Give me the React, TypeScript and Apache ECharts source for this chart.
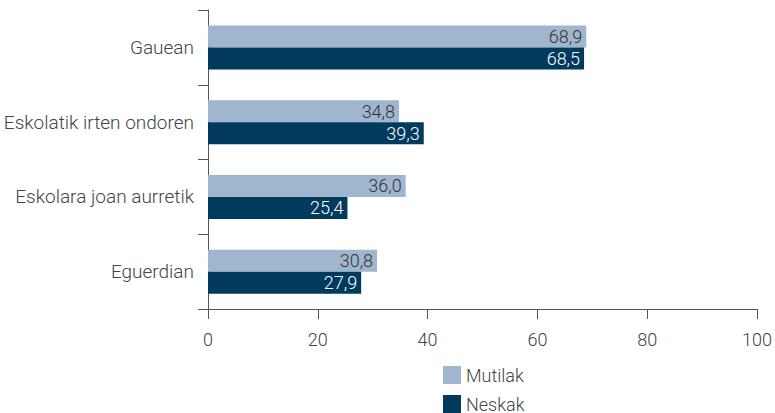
import React, { useEffect, useRef } from "react";
import * as echarts from "echarts";

const categories = ["Gauean", "Eskolatik irten ondoren", "Eskolara joan aurretik", "Eguerdian"];
const mutilak = [68.9, 34.8, 36.0, 30.8];
const neskak = [68.5, 39.3, 25.4, 27.9];
const seriesNames = ["Mutilak", "Neskak"];

const FONT = "Roboto";
const fmt = (v: number) => v.toFixed(1).replace(".", ",");

export default function App() {
  const ref = useRef<HTMLDivElement>(null);
  useEffect(() => {
    const chart = echarts.init(ref.current!, undefined, { renderer: "svg" });
    const legendText = { fontSize: 18, color: "#444", fontFamily: FONT, fontWeight: 300 };
    chart.setOption({
      animation: false,
      textStyle: { fontFamily: FONT },
      grid: { left: 208, right: 18, top: 10, bottom: 104 },
      legend: [
        {
          data: [seriesNames[0]],
          left: 443,
          top: 366,
          padding: 0,
          itemWidth: 18,
          itemHeight: 18,
          itemGap: 9,
          icon: "rect",
          textStyle: legendText,
        },
        {
          data: [seriesNames[1]],
          left: 443,
          top: 395,
          padding: 0,
          itemWidth: 18,
          itemHeight: 18,
          itemGap: 9,
          icon: "rect",
          textStyle: legendText,
        },
      ],
      xAxis: {
        type: "value",
        min: 0,
        max: 100,
        interval: 20,
        splitLine: { show: false },
        axisLine: { show: true, lineStyle: { color: "#555", width: 1 } },
        axisTick: { show: true, length: 10, lineStyle: { color: "#555" } },
        axisLabel: { fontSize: 18, color: "#444", margin: 21, fontWeight: 300 },
      },
      yAxis: {
        type: "category",
        data: categories,
        inverse: true,
        axisLine: { show: true, lineStyle: { color: "#555", width: 1 } },
        axisTick: { show: true, length: 10, lineStyle: { color: "#555" } },
        axisLabel: { fontSize: 19, color: "#444", margin: 14, fontWeight: 300 },
      },
      series: [
        {
          name: seriesNames[0],
          type: "bar",
          data: mutilak,
          barWidth: 22,
          barGap: "0%",
          itemStyle: { color: "#a0b6cf" },
          label: {
            show: true,
            position: "insideRight",
            distance: 4,
            formatter: (p: any) => fmt(p.value),
            color: "#333",
            fontSize: 18,
            fontWeight: 300,
          },
        },
        {
          name: seriesNames[1],
          type: "bar",
          data: neskak,
          barWidth: 22,
          barGap: "0%",
          itemStyle: { color: "#003a5d" },
          label: {
            show: true,
            position: "insideRight",
            distance: 4,
            formatter: (p: any) => fmt(p.value),
            color: "#fff",
            fontSize: 18,
            fontWeight: 300,
          },
        },
      ],
    });
    return () => chart.dispose();
  }, []);
  return <div ref={ref} style={{ width: 775, height: 413, position: "absolute", left: 0, top: 0 }} />;
}
